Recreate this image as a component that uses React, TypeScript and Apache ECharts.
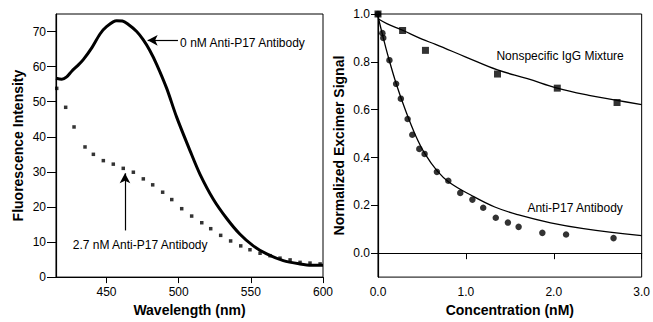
import React, { useEffect, useRef } from "react";
import * as echarts from "echarts";

// ---- Left panel: fluorescence spectra ----
const wl0 = [415, 419, 422.4, 425.9, 430, 433.9, 440, 445.5, 450, 457, 461, 464.5, 470.9, 475.5, 480, 484.8, 491.7, 498.6, 507.9, 514.8, 524, 533.3, 542.5, 551.7, 561, 572.5, 584.1, 592, 600];
const int0 = [56.7, 56.4, 57.1, 58.7, 60.3, 62.0, 65.5, 69.3, 71.4, 73.1, 73.0, 72.2, 70.0, 67.6, 64.6, 60.6, 53.8, 45.6, 36.0, 29.3, 22.2, 16.7, 12.2, 8.9, 6.6, 4.7, 3.75, 3.4, 3.4];

const wl27 = [415.5, 421.7, 427.5, 435.1, 440.9, 447.8, 454.7, 461.6, 468.6, 475.5, 482, 488.9, 495.2, 502.1, 509, 516, 522.2, 529.1, 536, 543, 549.4, 556.4, 563.3, 570.2, 577.2, 584.1, 591, 598];
const int27 = [53.8, 48.4, 42.8, 37.1, 35.0, 33.2, 32.2, 31.0, 29.9, 28.0, 26.3, 24.2, 22.1, 19.5, 17.4, 15.5, 13.8, 11.9, 10.3, 8.9, 7.8, 6.8, 6.1, 5.4, 4.9, 4.2, 4.0, 3.75];

const leftYTicks = [0, 10, 20, 30, 40, 50, 60, 70];
const leftXTicks = [450, 500, 550, 600];

// ---- Right panel: titration ----
const iggConc = [0, 0.28, 0.54, 1.36, 2.04, 2.72];
const iggSignal = [1.0, 0.931, 0.848, 0.749, 0.69, 0.63];
const iggFitConc = [0, 0.1, 0.28, 0.5, 0.655, 1.0, 1.36, 1.7, 2.04, 2.4, 2.72, 3.0];
const iggFitSignal = [0.98, 0.96, 0.932, 0.895, 0.873, 0.82, 0.766, 0.73, 0.69, 0.66, 0.639, 0.621];

const p17Conc = [0, 0.05, 0.06, 0.13, 0.206, 0.26, 0.337, 0.39, 0.47, 0.53, 0.67, 0.8, 0.936, 1.074, 1.197, 1.34, 1.478, 1.6, 1.87, 2.14, 2.68];
const p17Signal = [1.0, 0.92, 0.9, 0.807, 0.708, 0.646, 0.561, 0.495, 0.436, 0.415, 0.34, 0.303, 0.252, 0.224, 0.19, 0.148, 0.128, 0.11, 0.085, 0.078, 0.063];
const p17FitConc = [0, 0.05, 0.11, 0.21, 0.32, 0.43, 0.535, 0.673, 0.805, 1.066, 1.329, 1.59, 1.964, 2.339, 3.0];
const p17FitSignal = [0.99, 0.915, 0.83, 0.705, 0.59, 0.49, 0.415, 0.344, 0.298, 0.241, 0.193, 0.161, 0.127, 0.103, 0.073];

const rightYTicks = [0, 0.2, 0.4, 0.6, 0.8, 1.0];
const rightXTicks = [0, 1, 2, 3];

const zip = (a: number[], b: number[]) => a.map((v, i) => [v, b[i]]);

const FONT = 'Arial, "Liberation Sans", sans-serif';

export default function App() {
  const ref = useRef<HTMLDivElement>(null);
  useEffect(() => {
    if (!ref.current) return;
    const chart = echarts.init(ref.current, undefined, { renderer: "svg" });
    const axisLine = { show: true, lineStyle: { color: "#000", width: 1.2 } };
    const axisLabel = { color: "#000", fontSize: 12, fontFamily: FONT };
    const nameStyle = { color: "#000", fontSize: 14, fontWeight: "bold" as const, fontFamily: FONT };
    chart.setOption({
      animation: false,
      backgroundColor: "#fff",
      grid: [
        { left: 56, width: 267, top: 14, height: 266, show: true, borderColor: "#000", borderWidth: 1, backgroundColor: "transparent" },
        { left: 378, width: 268, top: 14, height: 267, show: true, borderColor: "#000", borderWidth: 1, backgroundColor: "transparent" },
      ],
      xAxis: [
        {
          type: "value", gridIndex: 0, min: 415, max: 600,
          name: "Wavelength (nm)", nameLocation: "middle", nameGap: 23, nameTextStyle: nameStyle,
          axisLine, splitLine: { show: false },
          axisTick: { show: true, length: 6, lineStyle: { color: "#000" }, customValues: leftXTicks },
          axisLabel: { ...axisLabel, margin: 9, customValues: leftXTicks },
        },
        {
          type: "value", gridIndex: 1, min: 0, max: 3,
          name: "Concentration (nM)", nameLocation: "middle", nameGap: 22, nameTextStyle: nameStyle,
          axisLine, splitLine: { show: false },
          axisTick: { show: true, length: 6, lineStyle: { color: "#000" }, customValues: rightXTicks },
          axisLabel: { ...axisLabel, margin: 9, customValues: rightXTicks, formatter: (v: number) => v.toFixed(1) },
        },
      ],
      yAxis: [
        {
          type: "value", gridIndex: 0, min: 0, max: 75,
          name: "Fluorescence Intensity", nameLocation: "middle", nameGap: 31, nameTextStyle: nameStyle,
          axisLine, splitLine: { show: false },
          axisTick: { show: true, length: 9, lineStyle: { color: "#000" }, customValues: leftYTicks },
          axisLabel: { ...axisLabel, margin: 10, customValues: leftYTicks },
        },
        {
          type: "value", gridIndex: 1, min: -0.1, max: 1.0,
          name: "Normalized Excimer Signal", nameLocation: "middle", nameGap: 32, nameTextStyle: nameStyle,
          axisLine, splitLine: { show: false },
          axisTick: { show: true, length: 7, lineStyle: { color: "#000" }, customValues: rightYTicks },
          axisLabel: { ...axisLabel, margin: 8, customValues: rightYTicks, formatter: (v: number) => v.toFixed(1) },
        },
      ],
      series: [
        {
          type: "line", xAxisIndex: 0, yAxisIndex: 0, data: zip(wl0, int0),
          smooth: 0.3, showSymbol: false, lineStyle: { color: "#000", width: 3 },
          markLine: {
            silent: true, symbol: ["none", "arrow"], symbolSize: [8, 10],
            lineStyle: { color: "#000", width: 1.2, type: "solid" }, label: { show: false },
            data: [[{ coord: [499.5, 67.5] }, { coord: [478.5, 67.5] }]],
          },
        },
        {
          type: "scatter", xAxisIndex: 0, yAxisIndex: 0, data: zip(wl27, int27),
          symbol: "rect", symbolSize: 3.5, itemStyle: { color: "#000" },
          markLine: {
            silent: true, symbol: ["none", "arrow"], symbolSize: [8, 10],
            lineStyle: { color: "#000", width: 1.2, type: "solid" }, label: { show: false },
            data: [[{ coord: [462.8, 13.3] }, { coord: [462.8, 29.6] }]],
          },
        },
        {
          type: "line", xAxisIndex: 1, yAxisIndex: 1, data: zip(iggFitConc, iggFitSignal),
          smooth: 0.4, showSymbol: false, lineStyle: { color: "#000", width: 1.3 },
        },
        {
          type: "line", xAxisIndex: 1, yAxisIndex: 1, data: zip(p17FitConc, p17FitSignal),
          smooth: 0.4, showSymbol: false, lineStyle: { color: "#000", width: 1.3 },
        },
        {
          type: "scatter", xAxisIndex: 1, yAxisIndex: 1, data: zip(iggConc, iggSignal),
          symbol: "rect", symbolSize: 7, itemStyle: { color: "#000" },
        },
        {
          type: "scatter", xAxisIndex: 1, yAxisIndex: 1, data: zip(p17Conc, p17Signal),
          symbol: "circle", symbolSize: 6.5, itemStyle: { color: "#000" },
        },
      ],
    });

    const labelStyle = { fill: "#000", fontSize: 12, fontFamily: FONT };
    const p = (gi: number, x: number, y: number) =>
      chart.convertToPixel({ xAxisIndex: gi, yAxisIndex: gi }, [x, y]) as number[];
    const t1 = p(0, 501, 66.7);
    const t2 = p(0, 426.6, 9.2);
    const t3 = p(1, 1.347, 0.825);
    const t4 = p(1, 1.7, 0.19);
    chart.setOption({
      graphic: [
        { type: "text", x: t1[0], y: t1[1], style: { ...labelStyle, text: "0 nM Anti-P17 Antibody", verticalAlign: "middle" } },
        { type: "text", x: t2[0], y: t2[1], style: { ...labelStyle, text: "2.7 nM Anti-P17 Antibody", verticalAlign: "middle" } },
        { type: "text", x: t3[0], y: t3[1], style: { ...labelStyle, text: "Nonspecific IgG Mixture", verticalAlign: "middle" } },
        { type: "text", x: t4[0], y: t4[1], style: { ...labelStyle, text: "Anti-P17 Antibody", verticalAlign: "middle" } },
      ],
    });

    return () => chart.dispose();
  }, []);
  return <div ref={ref} style={{ position: "fixed", left: 0, top: 0, width: 653, height: 322 }} />;
}
